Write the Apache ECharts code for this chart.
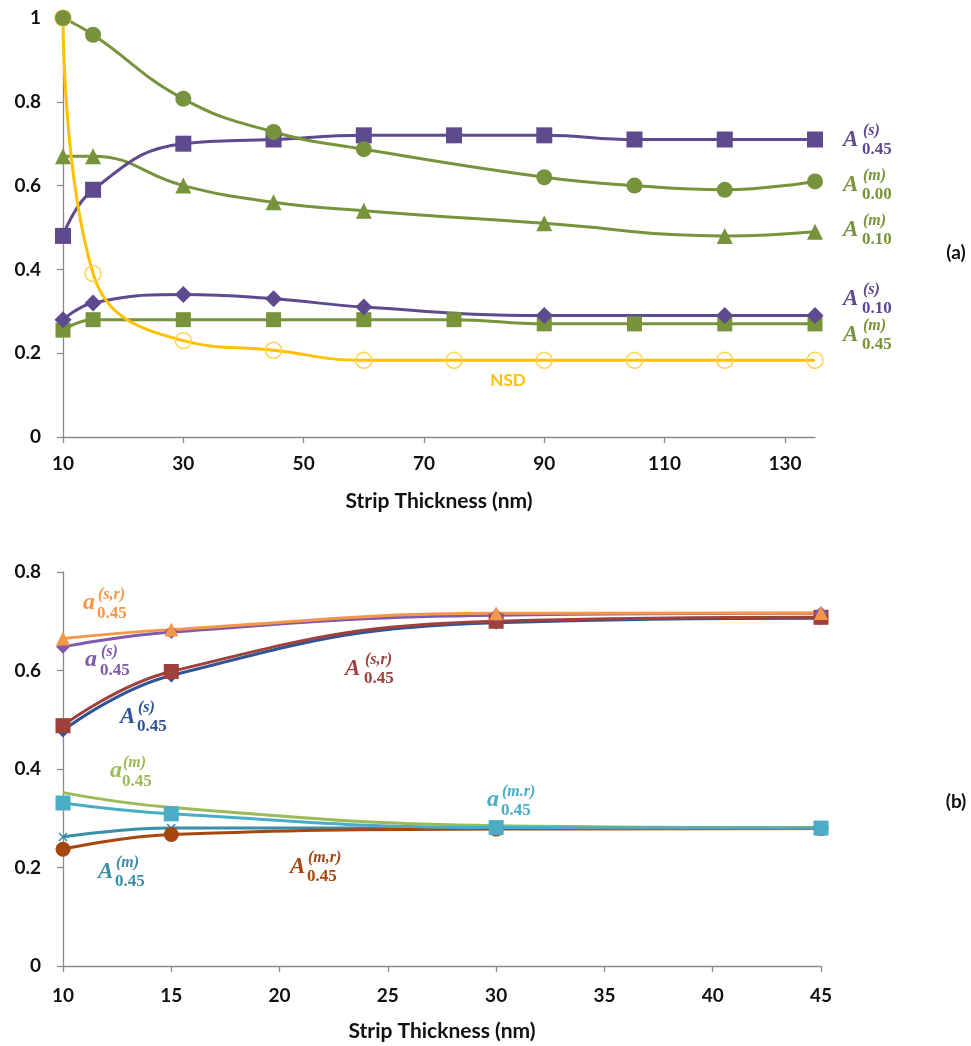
<!DOCTYPE html>
<html><head><meta charset="utf-8">
<script src="https://cdn.jsdelivr.net/npm/echarts@6/dist/echarts.min.js"></script>
<style>html,body{margin:0;padding:0;background:#fff}#c{width:971px;height:1046px}</style>
</head><body><div id="c"></div><script>
// ---------- data : panel (a) ----------
const topTicks = [10, 30, 50, 70, 90, 110, 130];
const A045s_x = [10, 15, 30, 45, 60, 75, 90, 105, 120, 135];
const A045s_y = [0.48, 0.59, 0.70, 0.71, 0.72, 0.72, 0.72, 0.71, 0.71, 0.71];
const A000m_x = [10, 15, 30, 45, 60, 90, 105, 120, 135];
const A000m_y = [1.00, 0.96, 0.807, 0.728, 0.687, 0.62, 0.60, 0.59, 0.61];
const A010m_x = [10, 15, 30, 45, 60, 90, 120, 135];
const A010m_y = [0.67, 0.67, 0.60, 0.56, 0.54, 0.51, 0.48, 0.49];
const A010s_x = [10, 15, 30, 45, 60, 90, 120, 135];
const A010s_y = [0.28, 0.32, 0.34, 0.33, 0.31, 0.29, 0.29, 0.29];
const A045m_x = [10, 15, 30, 45, 60, 75, 90, 105, 120, 135];
const A045m_y = [0.255, 0.28, 0.28, 0.28, 0.28, 0.28, 0.27, 0.27, 0.27, 0.27];
const NSD_x = [10, 15, 30, 45, 60, 75, 90, 105, 120, 135];
const NSD_y = [1.00, 0.39, 0.23, 0.207, 0.183, 0.183, 0.183, 0.183, 0.183, 0.183];

// ---------- data : panel (b) ----------
const botX = [10, 15, 30, 45];
const b_a045sr = [0.665, 0.683, 0.716, 0.717];
const b_a045s  = [0.648, 0.678, 0.712, 0.716];
const b_A045sr = [0.488, 0.598, 0.700, 0.708];
const b_A045s  = [0.478, 0.590, 0.697, 0.706];
const b_a045m  = [0.352, 0.322, 0.285, 0.281];
const b_a045mr = [0.331, 0.309, 0.281, 0.280];
const b_A045m  = [0.262, 0.280, 0.280, 0.280];
const b_A045mr = [0.237, 0.267, 0.278, 0.279];

const xTitle = 'Strip Thickness (nm)';

// ---------- styles ----------
const PURPLE = '#5E4A8E', GREEN = '#77933C', YELLOW = '#FFC000';
const ORANGE = '#F79646', VIOLET = '#7E5AB0', DRED = '#A0403C', DBLUE = '#2F5597';
const LGREEN = '#9BBB59', CYAN = '#4BACC6', TEAL = '#3A8EA8', BROWN = '#A5470F';

function zip(xs, ys) { return xs.map((x, i) => [x, ys[i]]); }

function line(name, xs, ys, color, symbol, size, gi, extra) {
  return Object.assign({
    name, type: 'line', xAxisIndex: gi, yAxisIndex: gi,
    data: zip(xs, ys), smooth: 0.45, symbol, symbolSize: size,
    lineStyle: { color, width: 3 }, itemStyle: { color },
    emphasis: { disabled: true }
  }, extra || {});
}

const axisLbl = { color: '#111', fontFamily: 'Lato', fontWeight: 'bold', fontSize: 19 };
const axLine = { show: true, lineStyle: { color: '#8a8a8a', width: 1.3 } };
const axTick = { show: true, length: 6, lineStyle: { color: '#8a8a8a', width: 1.3 } };

const series = [
  line('A045m', A045m_x, A045m_y, GREEN, 'rect', 15, 0),
  line('A010s', A010s_x, A010s_y, PURPLE, 'diamond', 17, 0),
  line('A010m', A010m_x, A010m_y, GREEN, 'triangle', 16, 0),
  line('A045s', A045s_x, A045s_y, PURPLE, 'rect', 16, 0),
  line('NSD', NSD_x, NSD_y, YELLOW, 'circle', 16, 0, {
    itemStyle: { color: 'rgba(255,255,255,0)', borderColor: '#FFD34D', borderWidth: 1.5 }
  }),
  line('A000m', A000m_x, A000m_y, GREEN, 'circle', 16, 0),

  line('bA045s', botX, b_A045s, DBLUE, 'diamond', 14, 1),
  line('bA045sr', botX, b_A045sr, DRED, 'rect', 15, 1),
  line('ba045s', botX, b_a045s, VIOLET, 'diamond', 14, 1),
  line('ba045sr', botX, b_a045sr, ORANGE, 'triangle', 14, 1),
  line('bA045m', botX, b_A045m, TEAL, 'path://M0,0L10,10M10,0L0,10', 8, 1, {
    itemStyle: { color: 'rgba(0,0,0,0)', borderColor: TEAL, borderWidth: 1.5 }
  }),
  line('bA045mr', botX, b_A045mr, BROWN, 'circle', 15, 1),
  line('ba045m', botX, b_a045m, LGREEN, 'none', 0, 1),
  line('ba045mr', botX, b_a045mr, CYAN, 'rect', 15, 1)
];

// ---------- math-style annotations ----------
function mathLabel(base, sup, sub, color, x, y, dx, lower) {
  const upper = !lower;
  return {
    type: 'group', x, y, silent: true,
    children: [
      { type: 'text', x: 0, y: lower ? -1 : 0, style: { text: base, fill: color,
        font: 'italic bold ' + (upper ? 23 : 24) + 'px "Liberation Serif"', align: 'left', verticalAlign: 'middle' } },
      { type: 'text', x: dx, y: -9, style: { text: sup, fill: color,
        font: 'italic bold 16px "Liberation Serif"', align: 'left', verticalAlign: 'middle' } },
      { type: 'text', x: dx - 1, y: 10, style: { text: sub, fill: color,
        font: 'bold 17px "Liberation Serif"', align: 'left', verticalAlign: 'middle' } }
    ]
  };
}

const graphics = [
  mathLabel('A', '(s)', '0.45', PURPLE, 843, 140, 20),
  mathLabel('A', '(m)', '0.00', GREEN, 843, 185, 20),
  mathLabel('A', '(m)', '0.10', GREEN, 843, 230, 20),
  mathLabel('A', '(s)', '0.10', PURPLE, 843, 299, 20),
  mathLabel('A', '(m)', '0.45', GREEN, 843, 335, 20),
  { type: 'text', x: 508, y: 381, silent: true, style: { text: 'NSD', fill: YELLOW,
    font: 'bold 17px Lato', align: 'center', verticalAlign: 'middle' } },
  { type: 'text', x: 956, y: 253, silent: true, style: { text: '(a)', fill: '#111',
    font: 'bold 19px Lato', align: 'center', verticalAlign: 'middle' } },
  { type: 'text', x: 956, y: 802, silent: true, style: { text: '(b)', fill: '#111',
    font: 'bold 19px Lato', align: 'center', verticalAlign: 'middle' } },

  mathLabel('a', '(s,r)', '0.45', ORANGE, 83, 604, 15, true),
  mathLabel('a', '(s)', '0.45', VIOLET, 85, 661, 16, true),
  mathLabel('A', '(s,r)', '0.45', DRED, 345, 669, 20),
  mathLabel('A', '(s)', '0.45', DBLUE, 120, 717, 18),
  mathLabel('a', '(m)', '0.45', LGREEN, 110, 772, 13, true),
  mathLabel('A', '(m)', '0.45', TEAL, 98, 872, 18),
  mathLabel('A', '(m,r)', '0.45', BROWN, 290, 867, 18),
  mathLabel('a', '(m.r)', '0.45', CYAN, 487, 801, 15, true)
];

const chart = echarts.init(document.getElementById('c'), null, { renderer: 'canvas' });
chart.setOption({
  animation: false,
  backgroundColor: '#fff',
  grid: [
    { left: 63, top: 18, width: 752, height: 419 },
    { left: 63, top: 572, width: 758, height: 394 }
  ],
  xAxis: [
    { type: 'value', gridIndex: 0, min: 10, max: 135,
      axisLine: axLine, axisTick: Object.assign({}, axTick, { customValues: topTicks }),
      axisLabel: Object.assign({}, axisLbl, { margin: 17, customValues: topTicks }),
      splitLine: { show: false },
      name: xTitle, nameLocation: 'middle', nameGap: 54,
      nameTextStyle: { color: '#111', fontFamily: 'Lato', fontWeight: 'bold', fontSize: 21 } },
    { type: 'value', gridIndex: 1, min: 10, max: 45, interval: 5,
      axisLine: axLine, axisTick: axTick,
      axisLabel: Object.assign({}, axisLbl, { margin: 20 }),
      splitLine: { show: false },
      name: xTitle, nameLocation: 'middle', nameGap: 55,
      nameTextStyle: { color: '#111', fontFamily: 'Lato', fontWeight: 'bold', fontSize: 21 } }
  ],
  yAxis: [
    { type: 'value', gridIndex: 0, min: 0, max: 1, interval: 0.2,
      axisLine: axLine, axisTick: axTick, axisLabel: Object.assign({}, axisLbl, { margin: 22 }),
      splitLine: { show: false } },
    { type: 'value', gridIndex: 1, min: 0, max: 0.8, interval: 0.2,
      axisLine: axLine, axisTick: axTick, axisLabel: Object.assign({}, axisLbl, { margin: 22 }),
      splitLine: { show: false } }
  ],
  series,
  graphic: graphics
});
</script></body></html>
